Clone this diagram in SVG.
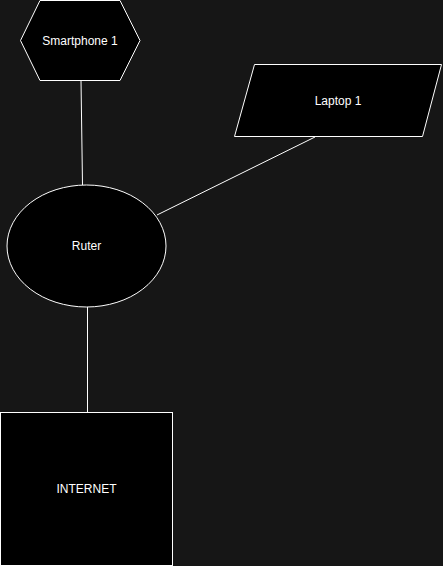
<svg xmlns="http://www.w3.org/2000/svg" width="443" height="566" viewBox="0 0 443 566">
<style>
.n{fill:#000;stroke:#fff;stroke-width:1}
.t{fill:#fff;font-family:"Liberation Sans",Arial,sans-serif;font-size:12px;text-anchor:middle;dominant-baseline:central}
.c{stroke:#fff;stroke-width:1;fill:none}
</style>
<rect width="443" height="566" fill="#161616"/>
<g id="connectors">
<line class="c" x1="81" y1="80.5" x2="82.5" y2="185"/>
<line class="c" x1="315" y1="137" x2="157" y2="215"/>
<line class="c" x1="87.5" y1="307" x2="87.5" y2="412"/>
</g>
<g id="smartphone">
<polygon class="n" points="40,0.5 120,0.5 140,40.5 120,80.5 40,80.5 20.5,40.5"/>
<text class="t" x="80" y="40.5">Smartphone 1</text>
</g>
<g id="laptop">
<polygon class="n" points="254.5,64.5 441.5,64.5 422.5,136.5 234.5,136.5"/>
<text class="t" x="338" y="100.5">Laptop 1</text>
</g>
<g id="ruter">
<ellipse class="n" cx="86.5" cy="246" rx="79.5" ry="61"/>
<text class="t" x="86.5" y="246">Ruter</text>
</g>
<g id="internet">
<rect class="n" x="0.5" y="412.5" width="172" height="153"/>
<text class="t" x="86.5" y="489">INTERNET</text>
</g>
</svg>
